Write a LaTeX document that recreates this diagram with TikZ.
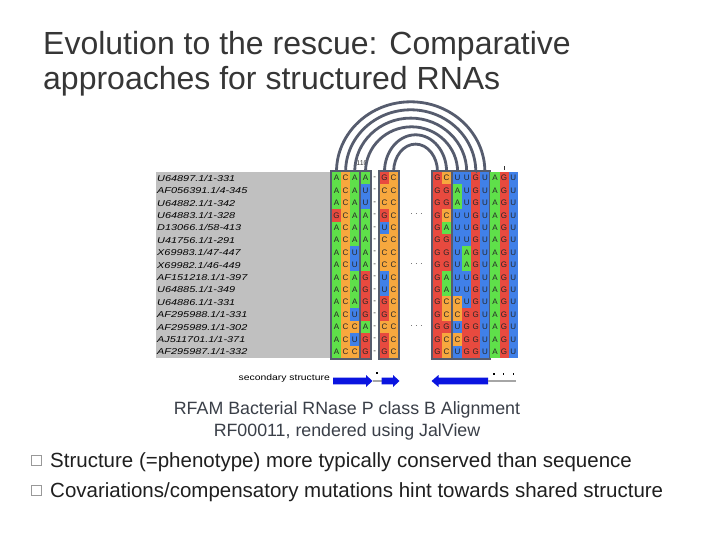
\documentclass[tikz,border=0pt]{standalone}
\usepackage{fontspec}
\usepackage{graphicx}
\setmainfont{Liberation Sans}
\definecolor{nA}{HTML}{5FE04A}
\definecolor{nC}{HTML}{F7A83E}
\definecolor{nG}{HTML}{E84A3F}
\definecolor{nU}{HTML}{4080E8}
\definecolor{frameC}{HTML}{565C6E}
\definecolor{panelC}{HTML}{C0C0C0}
\definecolor{titleC}{HTML}{363636}
\definecolor{capC}{HTML}{3A3F48}
\definecolor{ssblue}{HTML}{0A14E0}
\tikzset{
  cell/.style={minimum width=9.1pt, minimum height=12.4pt, inner sep=0pt,
    font=\fontsize{8}{8}\selectfont, text=black!85},
  seqname/.style={anchor=west, inner sep=0pt, font=\fontsize{8.5}{9}\selectfont\itshape, text=black},
  pairarc/.style={draw=frameC, line width=2.8pt},
  framebox/.style={fill=frameC},
  dotsnode/.style={inner sep=0pt, font=\fontsize{8}{8}\selectfont, text=black!80},
  bulletbox/.style={draw=gray!80, line width=0.7pt, minimum size=10.5pt, inner sep=0pt},
  bullettext/.style={anchor=base west, inner sep=0pt, font=\fontsize{20.5}{24}\selectfont, text=black!88},
  ssline/.style={draw=gray!70, line width=1.4pt},
}
\begin{document}
\begin{tikzpicture}[x=1pt,y=-1pt]
\fill[white] (0,0) rectangle (720,540);
\useasboundingbox (0,0) rectangle (720,540);

% title
\node[anchor=base west, inner sep=0pt, text=titleC, font=\fontsize{32}{38}\selectfont] (title1) at (43,55) {Evolution to the rescue: Comparative};
\node[anchor=base west, inner sep=0pt, text=titleC, font=\fontsize{32}{38}\selectfont] (title2) at (43,90) {approaches for structured RNAs};

% name panel
\fill[panelC] (156,172) rectangle (331,358);
\foreach \nm [count=\i] in {{U64897.1/1-331},{AF056391.1/4-345},{U64882.1/1-342},{U64883.1/1-328},{D13066.1/58-413},{U41756.1/1-291},{X69983.1/47-447},{X69982.1/46-449},{AF151218.1/1-397},{U64885.1/1-349},{U64886.1/1-331},{AF295988.1/1-331},{AF295989.1/1-302},{AJ511701.1/1-371},{AF295987.1/1-332}}{
  \pgfmathsetmacro\yy{165.8+12.4*\i}
  \node[seqname] (N\i) at (157,\yy) {\scalebox{1.28}[1]{\nm}};
}

% label 110
\node[inner sep=0pt, font=\fontsize{7}{7}\selectfont, text=black!80] (lbl110) at (362,163) {110};

% frames
\fill[framebox] (330,170) rectangle (372,360);
\fill[framebox] (377.5,170) rectangle (400,360);
\fill[framebox] (431,170) rectangle (490.5,360);

% left block
\foreach \a/\b/\c/\d/\e/\f [count=\i] in {A/C/A/A/G/C, A/C/A/U/C/C, A/C/A/U/C/C, G/C/A/A/G/C, A/C/A/A/U/C, A/C/A/A/C/C, A/C/U/A/C/C, A/C/U/A/C/C, A/C/A/G/U/C, A/C/A/G/U/C, A/C/A/G/G/C, A/C/U/G/G/C, A/C/C/A/C/C, A/C/U/G/G/C, A/C/C/G/G/C}{
  \pgfmathsetmacro\yy{165.8+12.4*\i}
  \node[cell, fill=n\a] (L\i-1) at (336.5,\yy) {\a};
  \node[cell, fill=n\b] (L\i-2) at (345.6,\yy) {\b};
  \node[cell, fill=n\c] (L\i-3) at (354.7,\yy) {\c};
  \node[cell, fill=n\d] (L\i-4) at (365.5,\yy) {\d};
  \node[cell, fill=white, minimum width=5pt] (D\i) at (374.7,\yy) {-};
  \node[cell, fill=n\e] (L\i-5) at (384.5,\yy) {\e};
  \node[cell, fill=n\f] (L\i-6) at (393.6,\yy) {\f};
}

% right block
\foreach \a/\b/\c/\d/\e/\f/\g/\h/\k [count=\i] in {G/C/U/U/G/U/A/G/U, G/G/A/U/G/U/A/G/U, G/G/A/U/G/U/A/G/U, G/C/U/U/G/U/A/G/U, G/A/U/U/G/U/A/G/U, G/G/U/U/G/U/A/G/U, G/G/U/A/G/U/A/G/U, G/G/U/A/G/U/A/G/U, G/A/U/U/G/U/A/G/U, G/A/U/U/G/U/A/G/U, G/C/C/U/G/U/A/G/U, G/C/C/G/G/U/A/G/U, G/G/U/G/G/U/A/G/U, G/C/C/G/G/U/A/G/U, G/C/U/G/G/U/A/G/U}{
  \pgfmathsetmacro\yy{165.8+12.4*\i}
  \node[cell, fill=n\a] (R\i-1) at (437.5,\yy) {\a};
  \node[cell, fill=n\b] (R\i-2) at (446.6,\yy) {\b};
  \node[cell, fill=n\c] (R\i-3) at (457.6,\yy) {\c};
  \node[cell, fill=n\d] (R\i-4) at (466.7,\yy) {\d};
  \node[cell, fill=n\e] (R\i-5) at (475.8,\yy) {\e};
  \node[cell, fill=n\f] (R\i-6) at (484.9,\yy) {\f};
  \node[cell, fill=n\g] (R\i-7) at (495.0,\yy) {\g};
  \node[cell, fill=n\h] (R\i-8) at (504.1,\yy) {\h};
  \node[cell, fill=n\k] (R\i-9) at (513.2,\yy) {\k};
}

% ellipsis dots between blocks
\node[dotsnode] (gap4) at (416.5,214.2) {.\,\,.\,\,.};
\node[dotsnode] (gap8) at (416.5,263.8) {.\,\,.\,\,.};
\node[dotsnode] (gap13) at (416.5,325.8) {.\,\,.\,\,.};

% base-pair arcs
\draw[pairarc] (L1-1.north) arc[start angle=180, end angle=0, x radius=74.2pt, y radius=70pt] -- (R1-6.north);
\draw[pairarc] (L1-2.north) arc[start angle=180, end angle=0, x radius=65.1pt, y radius=62pt] -- (R1-5.north);
\draw[pairarc] (L1-3.north) arc[start angle=180, end angle=0, x radius=56pt, y radius=53.7pt] -- (R1-4.north);
\draw[pairarc] (L1-4.north) arc[start angle=180, end angle=0, x radius=46.05pt, y radius=45pt] -- (R1-3.north);
\draw[pairarc] (L1-5.north) arc[start angle=180, end angle=0, x radius=31.05pt, y radius=37pt] -- (R1-2.north);
\draw[pairarc] (L1-6.north) arc[start angle=180, end angle=0, x radius=21.95pt, y radius=27.7pt] -- (R1-1.north);
\draw[black!80, line width=0.6pt] (504.1,166.5) -- (504.1,170);

% secondary structure track
\node[anchor=east, inner sep=0pt, font=\fontsize{8.5}{9}\selectfont, text=black] (sslbl) at (330,378) {\scalebox{1.22}[1]{secondary structure}};
\fill[ssblue] (333,377.5) -- (366,377.5) -- (366,375) -- (372.5,381) -- (366,387) -- (366,384.3) -- (333,384.3) -- cycle;
\draw[ssline] (372.5,381) -- (381.5,381);
\fill[ssblue] (381.5,377.5) -- (393,377.5) -- (393,375) -- (399.5,381) -- (393,387) -- (393,384.3) -- (381.5,384.3) -- cycle;
\fill[ssblue] (431.5,381) -- (438.5,375) -- (438.5,377.5) -- (488,377.5) -- (488,384.3) -- (438.5,384.3) -- (438.5,387) -- cycle;
\draw[ssline] (488,381) -- (516,381);
\fill[black] (376.3,372.3) rectangle (377.6,373.6);
\fill[black] (493.4,373.4) rectangle (494.7,374.7);
\fill[black] (502.6,373.4) rectangle (503.9,374.7);
\fill[black] (513.0,373.4) rectangle (514.3,374.7);

% caption
\node[anchor=base, inner sep=0pt, text=capC, font=\fontsize{17.8}{21}\selectfont] (cap1) at (347,414) {RFAM Bacterial RNase P class B Alignment};
\node[anchor=base, inner sep=0pt, text=capC, font=\fontsize{17.8}{21}\selectfont] (cap2) at (347,436) {RF00011, rendered using JalView};

% bullets
\node[bulletbox] (bx1) at (36.5,460.5) {};
\node[bullettext] (b1) at (50,467) {Structure (=phenotype) more typically conserved than sequence};
\node[bulletbox] (bx2) at (36.5,490.5) {};
\node[bullettext] (b2) at (50,497) {Covariations/compensatory mutations hint towards shared structure};
\end{tikzpicture}
\end{document}
